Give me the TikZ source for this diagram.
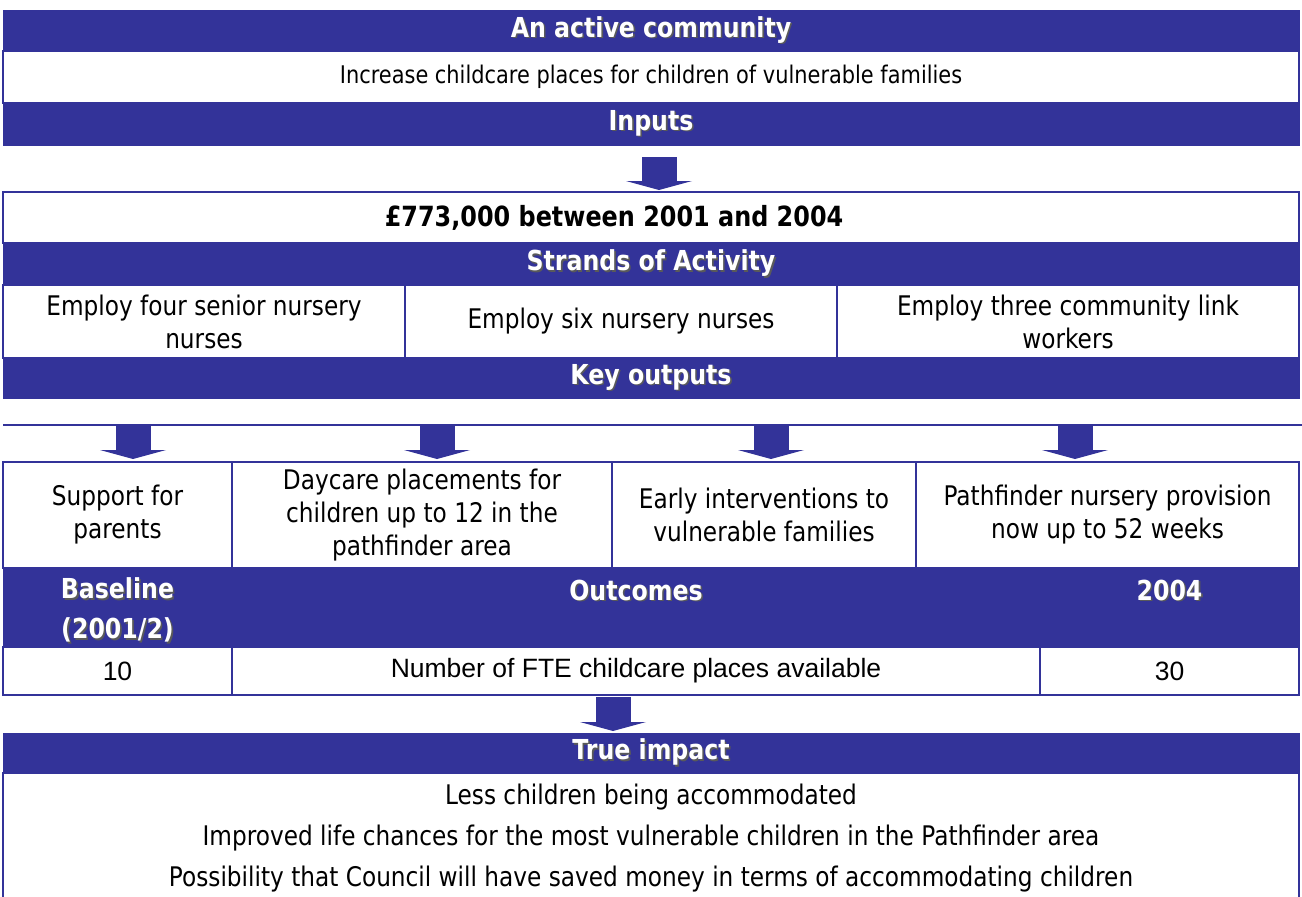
\documentclass[tikz,border=0pt]{standalone}
\usepackage{fontspec}
\setmainfont{DejaVu Sans}[FakeStretch=0.86]
\newfontfamily\arialfont{Liberation Sans}
\usetikzlibrary{arrows.meta,calc}
\definecolor{navy}{RGB}{51,51,153}
\definecolor{shade}{RGB}{90,90,90}
\newcommand\shadowed[1]{\makebox[0pt][l]{\kern1.6pt\raisebox{-1.6pt}{\textcolor{shade}{#1}}}#1}

\begin{document}
\begin{tikzpicture}[
    x=1pt, y=-1pt,
    band/.style={fill=navy, draw=navy, line width=1pt, text=white, inner sep=0pt, outer sep=0pt, align=center, font=\bfseries\fontsize{27.5}{40}\selectfont},
    cellbox/.style={fill=white, draw=navy, line width=1.5pt, inner sep=0pt, outer sep=0pt, align=center, font=\fontsize{27}{33}\selectfont},
    numbox/.style={cellbox, font=\arialfont\fontsize{26.5}{30}\selectfont},
    blockarrow/.style={navy, line width=35pt, -{Triangle[width=66pt,length=9pt,line width=0pt]}}
]
\useasboundingbox (0,0) rectangle (1302,897);

% Aim
\node[band, minimum width=1296, minimum height=41] (active) at (651,30.5) {\shadowed{An active community}};
\node[cellbox, minimum width=1296, minimum height=52, font=\fontsize{24.3}{28}\selectfont] (aim) at (651,77) {Increase childcare places for children of vulnerable families};
\node[band, minimum width=1296, minimum height=42] (inputs) at (651,124) {\shadowed{Inputs}};

% Inputs and strands
\node[cellbox, minimum width=1296, minimum height=51, font=\bfseries\fontsize{27.8}{30}\selectfont] (money) at (651,217.5) {£773,000 between 2001 and 2004\hspace*{74pt}};
\node[band, minimum width=1296, minimum height=42] (strands) at (651,264) {\shadowed{Strands of Activity}};
\node[cellbox, minimum width=402, minimum height=73] (employa) at (204,321.5) {Employ four senior nursery\\nurses};
\node[cellbox, minimum width=432, minimum height=73] (employb) at (621,321.5) {Employ six nursery nurses};
\node[cellbox, minimum width=462, minimum height=73] (employc) at (1068,321.5) {Employ three community link\\workers};
\node[band, minimum width=1296, minimum height=40] (keyout) at (651,378) {\shadowed{Key outputs}};

% Key outputs
\coordinate (kl) at (3,425);
\coordinate (kr) at (1302,425);
\node[cellbox, minimum width=229, minimum height=106] (support) at (117.5,515) {Support for\\parents};
\node[cellbox, minimum width=380, minimum height=106] (daycare) at (422,515) {Daycare placements for\\children up to 12 in the\\pathfinder area};
\node[cellbox, minimum width=304, minimum height=106] (early) at (764,515) {Early interventions to\\vulnerable families};
\node[cellbox, minimum width=383, minimum height=106] (nursery) at (1107.5,515) {Pathfinder nursery provision\\now up to 52 weeks};

% Outcomes
\node[band, minimum width=229, minimum height=86] (basehd) at (117.5,611) {\shadowed{Baseline}\\\shadowed{(2001/2)}};
\node[band, minimum width=808, minimum height=84] (outhd) at (636,610) {\shadowed{Outcomes}\\~};
\node[band, minimum width=259, minimum height=84] (yearhd) at (1169.5,610) {\shadowed{2004}\\~};
\node[numbox, minimum width=229, minimum height=48] (basenum) at (117.5,671) {10};
\node[numbox, minimum width=808, minimum height=48] (places) at (636,671) {Number of FTE childcare places available};
\node[numbox, minimum width=259, minimum height=48] (yearnum) at (1169.5,671) {30};

% True impact
\node[band, minimum width=1296, minimum height=40] (impact) at (651,753) {\shadowed{True impact}};
\node[cellbox, minimum width=1296, minimum height=130, font=\fontsize{27}{41}\selectfont] (effects) at (651,838) {Less children being accommodated\\Improved life chances for the most vulnerable children in the Pathfinder area\\Possibility that Council will have saved money in terms of accommodating children};

% Arrows
\draw[blockarrow, shorten <=12pt, shorten >=2pt] ($(inputs.south)+(8,0)$) -- ($(money.north)+(8,0)$);

\draw[navy, line width=2pt] (kl) -- (kr);
\coordinate (tosupport) at (133,425);
\coordinate (todaycare) at (437,425);
\coordinate (toearly) at (771,425);
\coordinate (tonursery) at (1075,425);
\draw[blockarrow, shorten >=3pt] (tosupport) -- (tosupport |- support.north);
\draw[blockarrow, shorten >=3pt] (todaycare) -- (todaycare |- daycare.north);
\draw[blockarrow, shorten >=3pt] (toearly) -- (toearly |- early.north);
\draw[blockarrow, shorten >=3pt] (tonursery) -- (tonursery |- nursery.north);

\draw[blockarrow, shorten <=2pt, shorten >=2pt] ($(places.south)+(-23,0)$) -- ($(impact.north)+(-38,0)$);

\end{tikzpicture}
\end{document}
